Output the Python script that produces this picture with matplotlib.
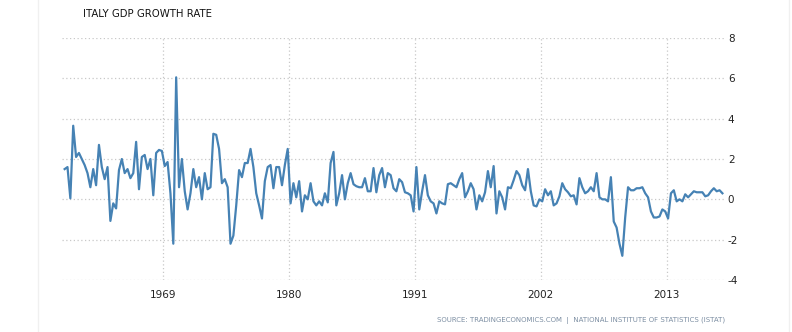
import matplotlib
matplotlib.use('Agg')
import matplotlib.pyplot as plt
import numpy as np

plt.rcParams['axes.unicode_minus'] = False
plt.rcParams['font.family'] = ['DejaVu Sans']

# Quarterly GDP growth rate (QoQ, %), 1960 Q2 .. 2017 Q4
first_quarter = (1960, 2)
growth = [
    1.5, 1.6, 0.05, 3.65, 2.1, 2.3, 2.0, 1.7, 1.3, 0.6,
    1.5, 0.7, 2.7, 1.6, 1.0, 1.6, -1.07, -0.2, -0.45, 1.45,
    2.0, 1.3, 1.5, 1.05, 1.3, 2.85, 0.5, 2.1, 2.2, 1.5,
    2.0, 0.2, 2.3, 2.45, 2.4, 1.65, 1.85, 0.3, -2.2, 6.05,
    0.6, 2.0, 0.4, -0.5, 0.3, 1.5, 0.6, 1.1, 0.0, 1.3,
    0.5, 0.6, 3.25, 3.2, 2.5, 0.8, 1.0, 0.6, -2.2, -1.8,
    -0.3, 1.45, 1.1, 1.8, 1.8, 2.5, 1.6, 0.3, -0.3, -0.95,
    0.9, 1.6, 1.7, 0.55, 1.6, 1.6, 0.7, 1.7, 2.5, -0.2,
    0.8, 0.1, 0.9, -0.6, 0.2, 0.0, 0.8, -0.1, -0.3, -0.1,
    -0.3, 0.3, -0.15, 1.8, 2.35, -0.3, 0.3, 1.2, 0.0, 0.8,
    1.3, 0.75, 0.65, 0.6, 0.6, 1.05, 0.4, 0.4, 1.55, 0.35,
    1.2, 1.55, 0.6, 1.3, 1.2, 0.55, 0.4, 1.0, 0.85, 0.35,
    0.3, 0.2, -0.6, 1.6, -0.5, 0.4, 1.2, 0.2, -0.1, -0.2,
    -0.7, -0.1, -0.2, -0.25, 0.75, 0.8, 0.7, 0.6, 1.0, 1.3,
    0.1, 0.4, 0.8, 0.5, -0.5, 0.2, -0.1, 0.35, 1.4, 0.6,
    1.65, -0.7, 0.4, 0.1, -0.5, 0.6, 0.55, 0.95, 1.4, 1.2,
    0.7, 0.45, 1.5, 0.4, -0.3, -0.35, 0.0, -0.1, 0.5, 0.2,
    0.4, -0.3, -0.2, 0.15, 0.8, 0.5, 0.35, 0.15, 0.2, -0.25,
    1.05, 0.6, 0.3, 0.4, 0.6, 0.4, 1.3, 0.1, 0.0, 0.0,
    -0.1, 1.1, -1.1, -1.4, -2.2, -2.8, -0.9, 0.6, 0.45, 0.45,
    0.55, 0.55, 0.6, 0.3, 0.1, -0.6, -0.9, -0.9, -0.85, -0.5,
    -0.6, -0.95, 0.3, 0.45, -0.1, 0.0, -0.1, 0.25, 0.1, 0.25,
    0.4, 0.35, 0.35, 0.35, 0.15, 0.2, 0.4, 0.55, 0.4, 0.45,
    0.3,
]
year_ticks = [1969, 1980, 1991, 2002, 2013]
value_ticks = [-4, -2, 0, 2, 4, 6, 8]

# quarter midpoints as fractional years
start = first_quarter[0] + (first_quarter[1] - 1) / 4
dates = start + np.arange(len(growth)) / 4 + 0.125

fig = plt.figure(figsize=(7.92, 3.32), dpi=100)
ax = fig.add_axes([62 / 792, 52 / 332, 663 / 792, 242 / 332])

ax.plot(dates, growth, color='#4682b4', lw=1.6, solid_joinstyle='round')

ax.set_xlim(1960.145, 2018.1)
ax.set_ylim(-4, 8)
ax.set_xticks(year_ticks)
ax.set_yticks(value_ticks)
ax.yaxis.tick_right()
ax.tick_params(axis='both', length=0, labelsize=7.5, colors='#222222')
ax.tick_params(axis='y', pad=2)
ax.tick_params(axis='x', pad=7)
for lbl in ax.get_yticklabels():
    lbl.set_horizontalalignment('left')

ax.grid(True, color='#c8c8c8', linestyle=(0, (1, 2)), linewidth=0.9)
for s in ax.spines.values():
    s.set_visible(False)

# faint frame around the widget
fig.add_artist(plt.Rectangle((38 / 792, -0.1), 751 / 792, 1.2, transform=fig.transFigure,
                             fill=False, edgecolor='#f0f0f0', lw=1))

fig.text(83 / 792, 1 - 14 / 332, 'ITALY GDP GROWTH RATE', fontsize=7.3,
         color='#111111', va='center', ha='left')
fig.text(725 / 792, 1 - 321 / 332,
         'SOURCE: TRADINGECONOMICS.COM  |  NATIONAL INSTITUTE OF STATISTICS (ISTAT)',
         fontsize=5.05, color='#7d8fa3', va='center', ha='right')

fig.savefig('out.png', dpi=100)
